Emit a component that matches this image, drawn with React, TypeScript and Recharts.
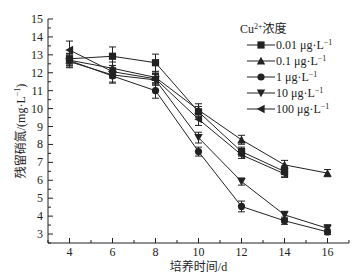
import { ErrorBar, Legend, Line, LineChart, XAxis, YAxis } from 'recharts'

const days = [4, 6, 8, 10, 12, 14, 16]
const conc001 = [12.78, 12.92, 12.56, 9.82, 7.6, 6.49, null]
const conc01 = [12.7, 12.25, 11.74, 9.92, 8.26, 6.86, 6.4]
const conc1 = [12.68, 11.82, 11.0, 7.6, 4.54, 3.74, 3.12]
const conc10 = [12.62, 11.88, 11.6, 8.38, 5.93, 4.07, 3.32]
const conc100 = [13.27, 12.06, 11.66, 9.41, 7.42, 6.36, null]

const err001 = [0.3, 0.52, 0.48, 0.3, 0.25, 0.3, null]
const err01 = [0.3, 0.35, 0.3, 0.35, 0.25, 0.25, 0.2]
const err1 = [0.4, 0.4, 0.42, 0.25, 0.3, 0.2, 0.15]
const err10 = [0.3, 0.4, 0.3, 0.3, 0.2, 0.2, 0.2]
const err100 = [0.5, 0.35, 0.3, 0.35, 0.2, 0.2, null]

const seriesLabels = ['0.01', '0.1', '1', '10', '100']
const shapes = ['square', 'up', 'circle', 'down', 'left']
const xTicks = [3, 4, 5, 6, 7, 8, 9, 10, 11, 12, 13, 14, 15, 16, 17]
const yTicks = Array.from({ length: 26 }, (_, i) => 2.5 + i * 0.5)

const FONT = "'Liberation Serif', 'Noto Sans CJK SC', serif"
const INK = '#222'

const rows = days.map((day, i) => ({
  day,
  s0: conc001[i], e0: err001[i],
  s1: conc01[i], e1: err01[i],
  s2: conc1[i], e2: err1[i],
  s3: conc10[i], e3: err10[i],
  s4: conc100[i], e4: err100[i]
}))

function Marker({ cx, cy, shape }: { cx: number; cy: number; shape: string }) {
  const r = 3.6
  if (shape === 'square') return <rect x={cx - r} y={cy - r} width={r * 2} height={r * 2} fill={INK} />
  if (shape === 'circle') return <circle cx={cx} cy={cy} r={r} fill={INK} />
  if (shape === 'up') return <polygon points={`${cx},${cy - r - 0.6} ${cx - r - 0.6},${cy + r} ${cx + r + 0.6},${cy + r}`} fill={INK} />
  if (shape === 'down') return <polygon points={`${cx},${cy + r + 0.6} ${cx - r - 0.6},${cy - r} ${cx + r + 0.6},${cy - r}`} fill={INK} />
  return <polygon points={`${cx - r - 0.6},${cy} ${cx + r},${cy - r - 0.6} ${cx + r},${cy + r + 0.6}`} fill={INK} />
}

const XTick = ({ x, y, payload }: any) => {
  const v = payload.value
  const major = v % 2 === 0
  return (
    <g>
      <line x1={x} x2={x} y1={y} y2={y - (major ? 5 : 3)} stroke={INK} />
      {major && (
        <text x={x} y={y + 13} textAnchor="middle" fontSize={12} fontFamily={FONT} fill={INK}>{v}</text>
      )}
    </g>
  )
}

const YTick = ({ x, y, payload }: any) => {
  const v = payload.value
  const major = Number.isInteger(v)
  return (
    <g>
      <line x1={x} x2={x + (major ? 5 : 3)} y1={y} y2={y} stroke={INK} />
      {major && (
        <text x={x - 5} y={y + 4} textAnchor="end" fontSize={12} fontFamily={FONT} fill={INK}>{v}</text>
      )}
    </g>
  )
}

const XTitle = ({ viewBox }: any) => (
  <text x={viewBox.x + viewBox.width / 2} y={viewBox.y + 28} textAnchor="middle" fontSize={12} fontFamily={FONT} fill={INK}>
    培养时间/d
  </text>
)

const YTitle = ({ viewBox }: any) => {
  const cx = 21
  const cy = viewBox.y + viewBox.height / 2
  return (
    <text x={cx} y={cy} transform={`rotate(-90 ${cx} ${cy})`} textAnchor="middle" dominantBaseline="central" fontSize={12} fontFamily={FONT} fill={INK}>
      残留硝氮/(mg·L<tspan dy={-4} fontSize={8}>−1</tspan><tspan dy={4}>)</tspan>
    </text>
  )
}

const LegendBox = () => (
  <svg width={115} height={100}>
    <text x={2} y={13} fontSize={12} fontFamily={FONT} fill={INK}>
      Cu<tspan dy={-4} fontSize={8}>2+</tspan><tspan dy={4}>浓度</tspan>
    </text>
    {seriesLabels.map((label, i) => {
      const cy = 25 + i * 16
      return (
        <g key={label}>
          <line x1={9} x2={37} y1={cy} y2={cy} stroke={INK} />
          <Marker cx={23} cy={cy} shape={shapes[i]} />
          <text x={38} y={cy + 4} fontSize={12} fontFamily={FONT} fill={INK}>
            {label} μg·L<tspan dy={-4} fontSize={8}>−1</tspan>
          </text>
        </g>
      )
    })}
  </svg>
)

export default function App() {
  return (
    <div style={{ position: 'absolute', left: 0, top: 0, width: 358, height: 277, background: '#fff' }}>
      <LineChart width={358} height={277} data={rows} margin={{ top: 19, right: 9, bottom: 3, left: 0 }}>
        <XAxis
          dataKey="day"
          type="number"
          domain={[3, 17]}
          ticks={xTicks}
          interval={0}
          tick={XTick}
          tickLine={false}
          tickSize={0}
          tickMargin={0}
          height={31}
          axisLine={{ stroke: INK }}
          label={<XTitle />}
        />
        <YAxis
          type="number"
          domain={[2.5, 15]}
          ticks={yTicks}
          interval={0}
          tick={YTick}
          tickLine={false}
          tickSize={0}
          tickMargin={0}
          width={48}
          axisLine={{ stroke: INK }}
          label={<YTitle />}
        />
        {shapes.map((shape, i) => (
          <Line
            key={shape}
            dataKey={`s${i}`}
            stroke={INK}
            strokeWidth={1}
            isAnimationActive={false}
            connectNulls={false}
            dot={(p: any) =>
              p.cx == null || p.cy == null || p.value == null ? <g key={`d${i}-${p.index}`} /> : <Marker key={`d${i}-${p.index}`} cx={p.cx} cy={p.cy} shape={shape} />
            }
            activeDot={false}
          >
            <ErrorBar dataKey={`e${i}`} direction="y" width={3.5} stroke={INK} strokeWidth={1} />
          </Line>
        ))}
        <Legend
          layout="vertical"
          align="center"
          verticalAlign="middle"
          content={<LegendBox />}
          wrapperStyle={{ left: 238, top: 20, width: 115, height: 100 }}
        />
      </LineChart>
    </div>
  )
}
